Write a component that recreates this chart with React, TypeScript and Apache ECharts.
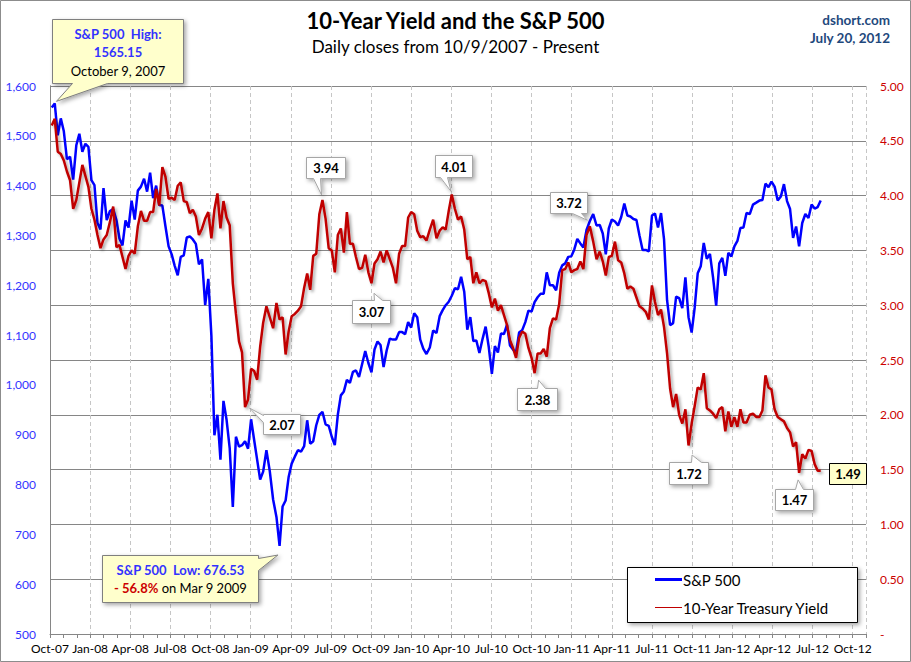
import React, { useEffect, useRef } from "react";
import * as echarts from "echarts";

// ---------- DATA (weekly Friday closes, first week below) ----------
const FIRST_WEEK = "2007-10-05";

const SP500_2007 = [1557, 1565, 1501, 1535, 1509, 1453, 1458, 1412, 1481, 1504, 1468, 1484, 1478];
const SP500_2008 = [
  1411, 1401, 1325, 1312,
  1395, 1331, 1349, 1353, 1331,
  1294, 1280, 1330, 1316,
  1370, 1332, 1390, 1398,
  1414, 1388, 1426, 1375, 1400,
  1361, 1360, 1318, 1278,
  1262, 1239, 1220, 1257,
  1260, 1296, 1298, 1292, 1283,
  1242, 1252, 1160, 1213,
  1099, 899, 940, 850, 968,
  930, 873, 755, 896,
  876, 879, 887, 872,
];
const SP500_2009 = [
  931, 890, 850, 810, 826,
  869, 827, 770, 735,
  677, 756, 768, 815,
  842, 856, 869, 866,
  877, 929, 882, 887, 919,
  940, 946, 921, 918,
  896, 879, 940, 979, 987,
  1010, 1004, 1026, 1029,
  1016, 1042, 1068, 1044,
  1025, 1071, 1087, 1080, 1036,
  1069, 1093, 1091, 1091,
  1106, 1106, 1102, 1126,
];
const SP500_2010 = [
  1115, 1144, 1136, 1091, 1073,
  1062, 1075, 1109, 1104,
  1138, 1150, 1160, 1167,
  1179, 1194, 1192, 1217, 1187,
  1111, 1136, 1088, 1089,
  1064, 1092, 1117, 1076,
  1022, 1078, 1065, 1103, 1102,
  1121, 1079, 1071, 1065,
  1105, 1110, 1126, 1149,
  1147, 1166, 1176, 1183, 1183,
  1226, 1200, 1200, 1190,
  1225, 1240, 1244, 1257, 1258,
];
const SP500_2011 = [
  1272, 1293, 1284, 1276,
  1311, 1329, 1343, 1320,
  1321, 1304, 1262, 1314,
  1332, 1328, 1320, 1337, 1364,
  1340, 1338, 1333, 1331,
  1300, 1271, 1271, 1268,
  1340, 1344, 1316, 1345, 1292,
  1170, 1120, 1124, 1177,
  1174, 1154, 1216, 1136, 1105,
  1155, 1224, 1238, 1285,
  1253, 1263, 1216, 1159,
  1244, 1255, 1219, 1265, 1258,
];
const SP500_2012 = [
  1278, 1289, 1315, 1316,
  1345, 1343, 1362, 1366,
  1370, 1371, 1404, 1397, 1408,
  1398, 1370, 1378, 1403,
  1369, 1353, 1295, 1318,
  1278, 1325, 1343, 1335, 1362,
  1354, 1357, 1370,
];

const YIELD_2007 = [4.64, 4.7, 4.4, 4.38, 4.32, 4.22, 4.14, 3.88, 3.96, 4.12, 4.28, 4.18, 4.08];
const YIELD_2008 = [
  3.88, 3.78, 3.64, 3.52,
  3.6, 3.64, 3.76, 3.9, 3.53,
  3.55, 3.44, 3.33, 3.45,
  3.5, 3.47, 3.72, 3.86,
  3.77, 3.77, 3.85, 3.85, 4.06,
  3.91, 4.26, 4.17, 3.97,
  3.98, 3.96, 4.09, 4.12,
  3.95, 3.94, 3.84, 3.87, 3.81,
  3.64, 3.7, 3.79, 3.85,
  3.61, 3.87, 4.02, 3.7, 3.95,
  3.8, 3.73, 3.2, 2.92,
  2.67, 2.57, 2.07, 2.14,
];
const YIELD_2009 = [
  2.42, 2.4, 2.32, 2.62, 2.84,
  2.99, 2.89, 2.79, 3.02,
  2.87, 2.89, 2.55, 2.76,
  2.9, 2.92, 2.95, 2.99,
  3.16, 3.29, 3.14, 3.45, 3.47,
  3.83, 3.96, 3.79, 3.52,
  3.5, 3.3, 3.64, 3.7, 3.48,
  3.85, 3.56, 3.56, 3.44,
  3.33, 3.34, 3.46, 3.3,
  3.2, 3.38, 3.42, 3.49, 3.39,
  3.5, 3.42, 3.34, 3.2,
  3.47, 3.54, 3.54, 3.8,
];
const YIELD_2010 = [
  3.85, 3.83, 3.68, 3.62, 3.63,
  3.59, 3.69, 3.78, 3.61,
  3.68, 3.71, 3.69, 3.86,
  4.01, 3.88, 3.78, 3.81, 3.69,
  3.42, 3.44, 3.2, 3.3,
  3.2, 3.23, 3.22, 3.11,
  2.98, 3.06, 2.95, 3.0, 2.91,
  2.82, 2.68, 2.61, 2.52,
  2.7, 2.76, 2.74, 2.61,
  2.52, 2.38, 2.56, 2.56, 2.6,
  2.53, 2.79, 2.88, 2.87,
  3.01, 3.32, 3.33, 3.39, 3.3,
];
const YIELD_2011 = [
  3.32, 3.33, 3.4, 3.33,
  3.64, 3.72, 3.58, 3.42,
  3.49, 3.4, 3.27, 3.44,
  3.45, 3.58, 3.41, 3.39, 3.29,
  3.15, 3.17, 3.15, 3.07,
  2.99, 2.97, 2.94, 2.87,
  3.18, 3.03, 2.91, 2.96, 2.8,
  2.56, 2.24, 2.07, 2.19,
  2.0, 1.92, 2.05, 1.72, 1.92,
  2.08, 2.25, 2.23, 2.38,
  2.06, 2.04, 2.01, 1.97,
  2.05, 2.07, 1.85, 2.03, 1.89,
];
const YIELD_2012 = [
  1.98, 1.89, 2.05, 1.93,
  1.93, 2.0, 2.01, 1.98,
  1.98, 2.04, 2.36, 2.25, 2.23,
  2.05, 1.98, 1.96, 1.94,
  1.88, 1.84, 1.71, 1.75,
  1.47, 1.64, 1.6, 1.68, 1.67,
  1.55, 1.49, 1.49,
];

const X_TICK_LABELS = [
  "Oct-07", "Jan-08", "Apr-08", "Jul-08", "Oct-08", "Jan-09", "Apr-09", "Jul-09",
  "Oct-09", "Jan-10", "Apr-10", "Jul-10", "Oct-10", "Jan-11", "Apr-11", "Jul-11",
  "Oct-11", "Jan-12", "Apr-12", "Jul-12", "Oct-12",
];

// callout anchors (date, value on axis) and their labels
const CALLOUT_IDS = ["high", "low", "y394", "y401", "y372", "y307", "y207", "y238", "y172", "y147", "y149"];
const CALLOUT_DATES = ["2007-10-09", "2009-03-09", "2009-06-10", "2010-04-05", "2011-02-08", "2009-10-02", "2008-12-18", "2010-10-08", "2011-09-22", "2012-06-01", "2012-07-20"];
const CALLOUT_VALUES = [1565.15, 676.53, 3.96, 4.01, 3.72, 3.2, 2.07, 2.38, 1.72, 1.47, 1.49];
const CALLOUT_AXES = [0, 0, 1, 1, 1, 1, 1, 1, 1, 1, 1];
const CALLOUT_LABELS = ["", "", "3.94", "4.01", "3.72", "3.07", "2.07", "2.38", "1.72", "1.47", "1.49"];

// ---------- LAYOUT / STYLE ----------
const FONT = 'Lato, "Open Sans", "DejaVu Sans", sans-serif';
const W = 911;
const H = 662;

type Layout = {
  tip: [number, number];
  box: [number, number, number, number];
  side: "top" | "bottom" | "left" | "right" | "none";
  base: [number, number];
};
const CALLOUT_LAYOUT: Record<string, Layout> = {
  high: { tip: [3, -2], box: [-1.5, -84.5, 131, 64], side: "bottom", base: [20, 55] },
  low: { tip: [-3, 9], box: [-179, 9, 156, 47], side: "right", base: [3, 15] },
  y394: { tip: [0, -5], box: [-16, -43, 39, 21], side: "bottom", base: [7, 14] },
  y401: { tip: [-2, -3], box: [-18, -39.5, 37, 22], side: "bottom", base: [5, 12] },
  y372: { tip: [-1, -6], box: [-38.5, -34.5, 37, 21], side: "bottom", base: [22, 31] },
  y307: { tip: [2.5, 10], box: [-19.5, 16.5, 38, 23], side: "top", base: [22, 30] },
  y207: { tip: [5, 1], box: [18, 7, 37, 20], side: "left", base: [1, 8] },
  y238: { tip: [4, 7], box: [-17.5, 15, 40, 22], side: "top", base: [20, 28] },
  y172: { tip: [4, 9.5], box: [-19, 16.5, 39, 22], side: "top", base: [22, 32] },
  y147: { tip: [-1, 7], box: [-24, 16, 38, 21], side: "top", base: [20, 28] },
  y149: { tip: [0, 0], box: [8.5, -7.5, 37, 21], side: "none", base: [0, 0] },
};

const SHADOW = { shadowBlur: 4, shadowOffsetX: 2, shadowOffsetY: 2, shadowColor: "rgba(0,0,0,0.35)" };

// ---------- HELPERS ----------
const DAY = 86400000;
function monthIndexOf(ms: number): number {
  const d = new Date(ms);
  const y = d.getUTCFullYear();
  const m = d.getUTCMonth();
  const day = d.getUTCDate();
  const dim = new Date(Date.UTC(y, m + 1, 0)).getUTCDate();
  return (y - 2007) * 12 + (m - 9) + (day - 1) / dim;
}
const firstMs = Date.parse(FIRST_WEEK + "T00:00:00Z");
const weekX = (i: number) => monthIndexOf(firstMs + i * 7 * DAY);
const dateX = (s: string) => monthIndexOf(Date.parse(s + "T00:00:00Z"));

const SP500 = [...SP500_2007, ...SP500_2008, ...SP500_2009, ...SP500_2010, ...SP500_2011, ...SP500_2012];
const YIELD10 = [...YIELD_2007, ...YIELD_2008, ...YIELD_2009, ...YIELD_2010, ...YIELD_2011, ...YIELD_2012];

let measureCtx: CanvasRenderingContext2D | null = null;
function textWidth(text: string, font: string): number {
  if (!measureCtx) measureCtx = document.createElement("canvas").getContext("2d");
  if (!measureCtx) return text.length * 7;
  measureCtx.font = font;
  return measureCtx.measureText(text).width;
}

function bubblePoints(x0: number, y0: number, w: number, h: number, tx: number, ty: number, side: string, base: [number, number]) {
  const x1 = x0 + w;
  const y1 = y0 + h;
  const [a, b] = base;
  switch (side) {
    case "top":
      return [[x0, y0], [x0 + a, y0], [tx, ty], [x0 + b, y0], [x1, y0], [x1, y1], [x0, y1]];
    case "right":
      return [[x0, y0], [x1, y0], [x1, y0 + a], [tx, ty], [x1, y0 + b], [x1, y1], [x0, y1]];
    case "bottom":
      return [[x0, y0], [x1, y0], [x1, y1], [x0 + b, y1], [tx, ty], [x0 + a, y1], [x0, y1]];
    case "left":
      return [[x0, y0], [x1, y0], [x1, y1], [x0, y1], [x0, y0 + b], [tx, ty], [x0, y0 + a]];
    default:
      return [[x0, y0], [x1, y0], [x1, y1], [x0, y1]];
  }
}

function buildOption() {
  return {
    animation: false,
    backgroundColor: "#ffffff",
    textStyle: { fontFamily: FONT },
    grid: { left: 50, right: 45, top: 86, bottom: 28, containLabel: false },
    xAxis: [
      {
        type: "value",
        min: 0,
        max: 61,
        interval: 1,
        position: "bottom",
        axisLine: { show: true, onZero: false, lineStyle: { color: "#868686", width: 1 } },
        axisTick: { show: true, length: 4, lineStyle: { color: "#868686" } },
        axisLabel: {
          color: "#000000",
          fontFamily: FONT,
          fontSize: 12,
          margin: 8,
          showMinLabel: true,
          showMaxLabel: true,
          formatter: (v: number) => {
            const r = Math.round(v);
            return r % 3 === 0 && X_TICK_LABELS[r / 3] ? X_TICK_LABELS[r / 3] : "";
          },
        },
        splitLine: { show: false },
      },
      {
        type: "value",
        min: 0,
        max: 61,
        interval: 3,
        position: "top",
        axisLine: { show: false },
        axisTick: { show: false },
        axisLabel: { show: false },
        splitLine: { show: true, lineStyle: { color: "#c6c6c6", type: [4, 3], width: 1 } },
      },
    ],
    yAxis: [
      {
        type: "value",
        position: "left",
        min: 500,
        max: 1600,
        interval: 100,
        axisLine: { show: true, lineStyle: { color: "#868686" } },
        axisTick: { show: false },
        axisLabel: {
          color: "#3333ff",
          fontFamily: FONT,
          fontSize: 12,
          margin: 14,
          formatter: (v: number) => v.toLocaleString("en-US"),
        },
        splitLine: { show: false },
      },
      {
        type: "value",
        position: "right",
        min: 0,
        max: 5,
        interval: 0.5,
        axisLine: { show: true, lineStyle: { color: "#868686" } },
        axisTick: { show: true, length: 4, lineStyle: { color: "#868686" } },
        axisLabel: {
          color: "#cc0000",
          fontFamily: FONT,
          fontSize: 12,
          margin: 14,
          formatter: (v: number) => (Math.abs(v) < 1e-9 ? "-" : v.toFixed(2)),
        },
        splitLine: { show: true, lineStyle: { color: "#868686", width: 1 } },
      },
    ],
    series: [
      {
        type: "line",
        name: "S&P 500",
        xAxisIndex: 0,
        yAxisIndex: 0,
        data: SP500.map((v, i) => [weekX(i), v]),
        showSymbol: false,
        symbol: "none",
        lineStyle: { color: "#0000ff", width: 2.5 },
        z: 3,
      },
      {
        type: "line",
        name: "10-Year Treasury Yield",
        xAxisIndex: 0,
        yAxisIndex: 1,
        data: YIELD10.map((v, i) => [weekX(i), v]),
        showSymbol: false,
        symbol: "none",
        lineStyle: { color: "#c00000", width: 2.5, ...SHADOW, shadowBlur: 3 },
        z: 4,
      },
    ],
  };
}

function buildGraphics(chart: any) {
  const g: any[] = [];
  // outer frame
  g.push({ type: "rect", z: 100, shape: { x: 0.5, y: 0.5, width: W - 1, height: H - 1 }, style: { fill: "none", stroke: "#8c8c8c", lineWidth: 1 } });
  // titles
  g.push({ type: "text", z: 100, x: 455.5, y: 20, style: { text: "10-Year Yield and the S&P 500", font: `bold 22px ${FONT}`, fill: "#000", align: "center", verticalAlign: "middle" } });
  g.push({ type: "text", z: 100, x: 455.5, y: 46, style: { text: "Daily closes from 10/9/2007 - Present", font: `17px ${FONT}`, fill: "#000", align: "center", verticalAlign: "middle" } });
  g.push({ type: "text", z: 100, x: 890, y: 19.5, style: { text: "dshort.com", font: `bold 13.5px ${FONT}`, fill: "#1f497d", align: "right", verticalAlign: "middle" } });
  g.push({ type: "text", z: 100, x: 890, y: 38, style: { text: "July 20, 2012", font: `bold 13.5px ${FONT}`, fill: "#1f497d", align: "right", verticalAlign: "middle" } });

  // legend
  g.push({ type: "rect", z: 100, shape: { x: 627.5, y: 567.5, width: 230, height: 55 }, style: { fill: "#fff", stroke: "#000", lineWidth: 1, ...SHADOW } });
  g.push({ type: "line", z: 101, shape: { x1: 655, y1: 579.5, x2: 682, y2: 579.5 }, style: { stroke: "#0000ff", lineWidth: 3 } });
  g.push({ type: "text", z: 101, x: 683, y: 579.5, style: { text: "S&P 500", font: `15px ${FONT}`, fill: "#000", align: "left", verticalAlign: "middle" } });
  g.push({ type: "line", z: 101, shape: { x1: 655, y1: 607.5, x2: 682, y2: 607.5 }, style: { stroke: "#c00000", lineWidth: 1 } });
  g.push({ type: "text", z: 101, x: 683, y: 607.5, style: { text: "10-Year Treasury Yield", font: `15px ${FONT}`, fill: "#000", align: "left", verticalAlign: "middle" } });

  // callouts
  CALLOUT_IDS.forEach((id, k) => {
    const lay = CALLOUT_LAYOUT[id];
    const p = chart.convertToPixel({ xAxisIndex: 0, yAxisIndex: CALLOUT_AXES[k] }, [dateX(CALLOUT_DATES[k]), CALLOUT_VALUES[k]]);
    if (!p) return;
    const [px, py] = p;
    const bx = Math.round(px + lay.box[0]) + 0.5;
    const by = Math.round(py + lay.box[1]) + 0.5;
    const bw = lay.box[2];
    const bh = lay.box[3];
    const tx = px + lay.tip[0];
    const ty = py + lay.tip[1];
    const yellow = id === "high" || id === "low" || id === "y149";
    const stroke = id === "y149" ? "#000000" : yellow ? "#7f7f7f" : "#a6a6a6";
    const fill = yellow ? "#ffffcc" : "#ffffff";
    g.push({
      type: "polygon",
      z: 110,
      shape: { points: bubblePoints(bx, by, bw, bh, tx, ty, lay.side, lay.base) },
      style: { fill, stroke, lineWidth: 1, ...(id === "y149" ? {} : SHADOW) },
    });
    const cx = bx + bw / 2;
    const cy = by + bh / 2;
    if (id === "high") {
      const lines = [
        { t: "S&P 500  High:", font: `bold 13px ${FONT}`, fill: "#3333ff" },
        { t: "1565.15", font: `bold 13px ${FONT}`, fill: "#3333ff" },
        { t: "October 9, 2007", font: `13px ${FONT}`, fill: "#000" },
      ];
      lines.forEach((ln, j) => {
        g.push({
          type: "text", z: 111, x: cx, y: cy + 0.5 + (j - 1) * 18.5,
          style: { text: ln.t, font: ln.font, fill: ln.fill, align: "center", verticalAlign: "middle" },
        });
      });
    } else if (id === "low") {
      g.push({
        type: "text", z: 111, x: cx, y: cy - 9,
        style: { text: "S&P 500  Low: 676.53", font: `bold 13px ${FONT}`, fill: "#3333ff", align: "center", verticalAlign: "middle" },
      });
      const f1 = `bold 13px ${FONT}`;
      const f2 = `13px ${FONT}`;
      const t1 = "- 56.8%";
      const t2 = " on Mar 9 2009";
      const w1 = textWidth(t1, f1);
      const w2 = textWidth(t2, f2);
      const start = cx - (w1 + w2) / 2;
      g.push({ type: "text", z: 111, x: start, y: cy + 9, style: { text: t1, font: f1, fill: "#cc0000", align: "left", verticalAlign: "middle" } });
      g.push({ type: "text", z: 111, x: start + w1, y: cy + 9, style: { text: t2, font: f2, fill: "#000", align: "left", verticalAlign: "middle" } });
    } else {
      g.push({
        type: "text", z: 111, x: cx, y: cy,
        style: { text: CALLOUT_LABELS[k], font: `bold 13px ${FONT}`, fill: "#000", align: "center", verticalAlign: "middle" },
      });
    }
  });
  return g;
}

export default function App() {
  const ref = useRef<HTMLDivElement>(null);
  useEffect(() => {
    if (!ref.current) return;
    const chart = echarts.init(ref.current, null, { renderer: "svg" });
    chart.setOption(buildOption() as any);
    chart.setOption({ graphic: buildGraphics(chart) } as any);
    return () => chart.dispose();
  }, []);
  return (
    <div
      ref={ref}
      style={{ position: "absolute", left: 0, top: 0, width: W, height: H, background: "#fff" }}
    />
  );
}
